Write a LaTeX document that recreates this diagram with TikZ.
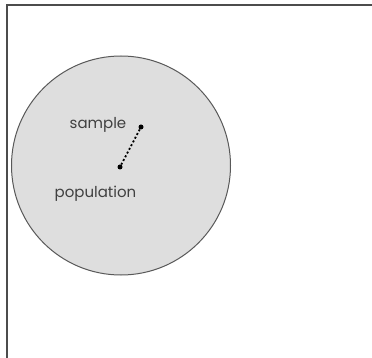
\documentclass[tikz,border=0pt]{standalone}
\usepackage{fontspec}
\setmainfont{Poppins}
\begin{document}
\begin{tikzpicture}[x=1pt,y=-1pt,
  frameline/.style={draw=black!70,line width=1.6pt},
  pop/.style={draw=black!65,fill=black!13,line width=1pt},
  dotpt/.style={circle,fill=black,inner sep=0pt,minimum size=5pt},
  link/.style={line width=1.8pt,dash pattern=on 2pt off 2.2pt},
  lbl/.style={font=\fontsize{15}{17}\selectfont,text=black!75,inner sep=0pt,anchor=base}]
\useasboundingbox (0,0) rectangle (372,358);
\fill[white] (0,0) rectangle (372,358);
\draw[frameline] (372,5) -- (7,5) -- (7,358);
\draw[pop] (121,165.5) circle (109.5);
\node[dotpt] (s) at (141,127) {};
\node[dotpt] (p) at (120,167) {};
\draw[link] (s) -- (p);
\node[lbl] (ls) at (98,129) {sample};
\node[lbl] (lp) at (95.5,198) {population};
\end{tikzpicture}
\end{document}
